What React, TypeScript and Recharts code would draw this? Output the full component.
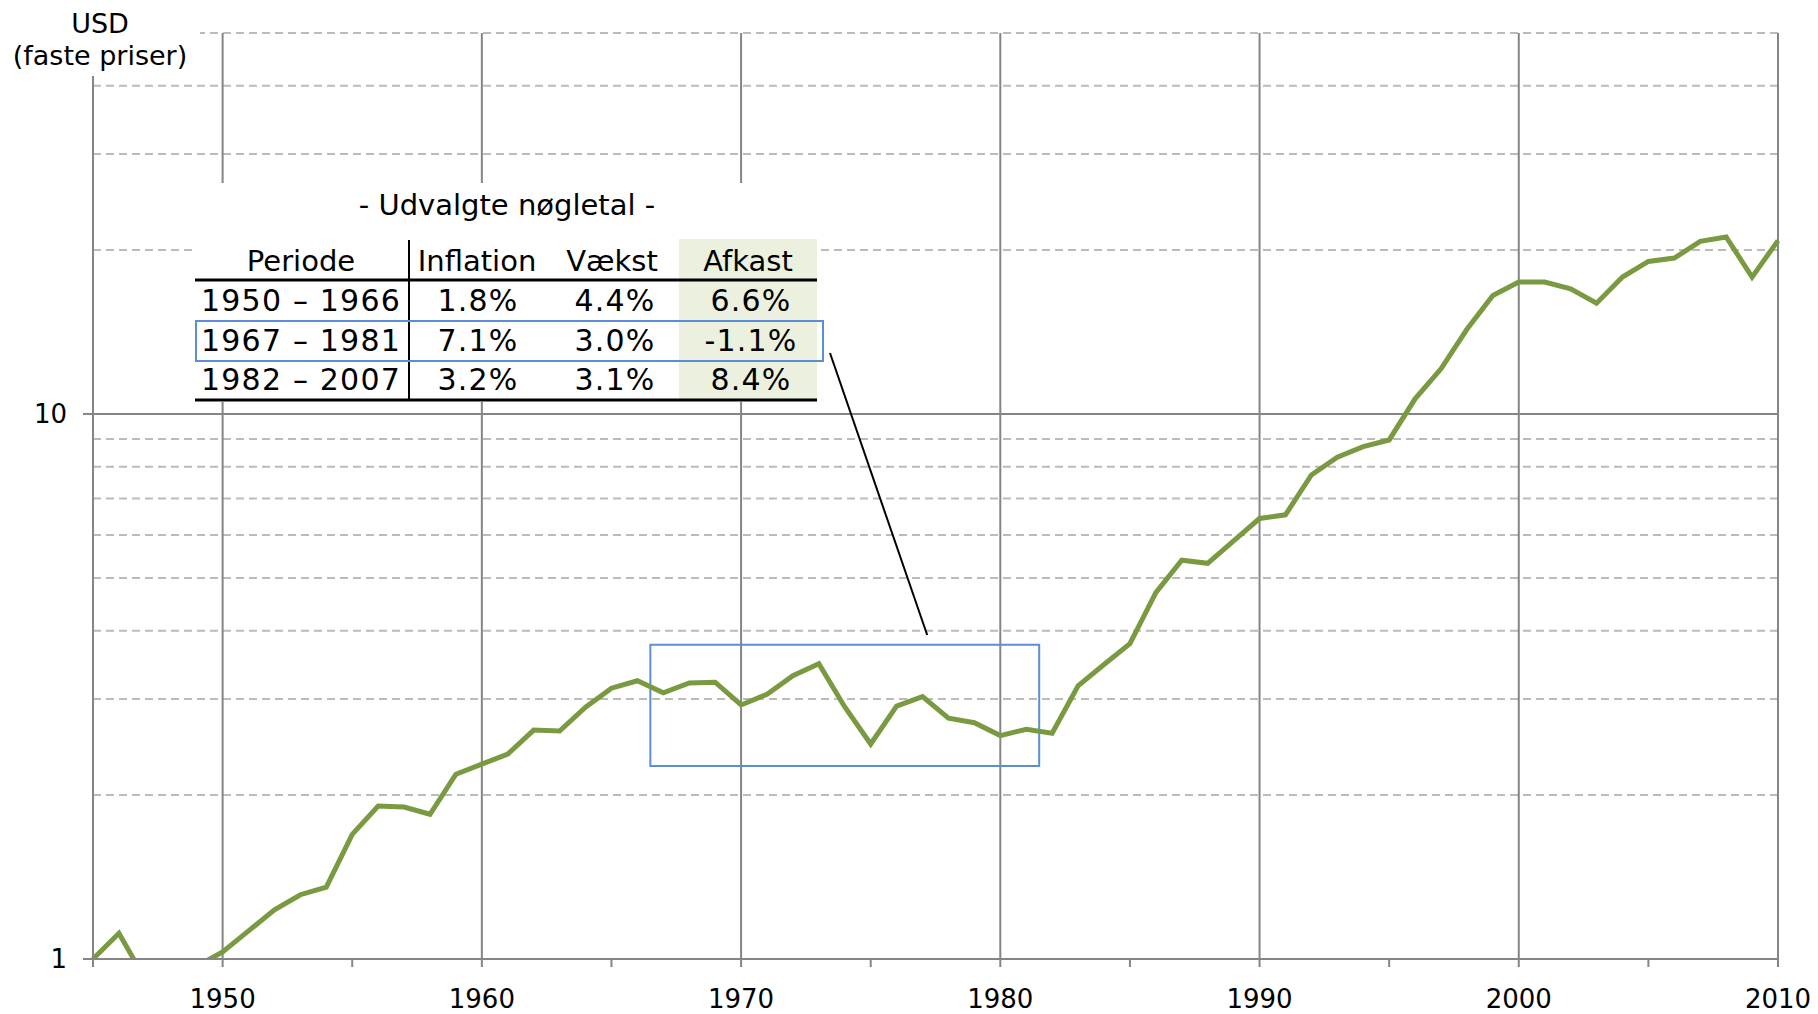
import React from 'react';
import {
  ComposedChart,
  Line,
  XAxis,
  YAxis,
  CartesianGrid,
  ReferenceArea,
  ReferenceLine,
} from 'recharts';

// ---- data ----
const years = [
  1945, 1946, 1947, 1948, 1949, 1950, 1951, 1952, 1953, 1954, 1955, 1956, 1957, 1958, 1959,
  1960, 1961, 1962, 1963, 1964, 1965, 1966, 1967, 1968, 1969, 1970, 1971, 1972, 1973, 1974,
  1975, 1976, 1977, 1978, 1979, 1980, 1981, 1982, 1983, 1984, 1985, 1986, 1987, 1988, 1989,
  1990, 1991, 1992, 1993, 1994, 1995, 1996, 1997, 1998, 1999, 2000, 2001, 2002, 2003, 2004,
  2005, 2006, 2007, 2008, 2009, 2010,
];
const values = [
  1.0, 1.115, 0.92, 0.9, 0.97, 1.03, 1.126, 1.231, 1.312, 1.355, 1.693, 1.909, 1.9, 1.843, 2.183,
  2.278, 2.377, 2.63, 2.62, 2.897, 3.14, 3.24, 3.08, 3.21, 3.22, 2.925, 3.06, 3.31, 3.48, 2.9,
  2.48, 2.91, 3.03, 2.765, 2.714, 2.57, 2.64, 2.595, 3.17, 3.47, 3.79, 4.7, 5.39, 5.32, 5.85,
  6.43, 6.53, 7.73, 8.33, 8.71, 8.96, 10.66, 12.1, 14.3, 16.5, 17.46, 17.46, 16.97, 15.97, 17.83,
  19.05, 19.32, 20.73, 21.12, 17.83, 20.8,
];
const xTicks = [1945, 1950, 1955, 1960, 1965, 1970, 1975, 1980, 1985, 1990, 1995, 2000, 2005, 2010];
const decadeLines = [1950, 1960, 1970, 1980, 1990, 2000, 2010];
const yTicks = [1, 10];
const majorY = [10];
const minorY = [2, 3, 4, 5, 6, 7, 8, 9, 20, 30, 40, 50];

// table
const tableTitle = '- Udvalgte nøgletal -';
const headers = ['Periode', 'Inflation', 'Vækst', 'Afkast'];
const periods = ['1950 – 1966', '1967 – 1981', '1982 – 2007'];
const inflation = ['1.8%', '7.1%', '3.2%'];
const growth = ['4.4%', '3.0%', '3.1%'];
const returns = ['6.6%', '-1.1%', '8.4%'];

// highlighted period box + connector (data coordinates)
const boxX = [1966.5, 1981.5];
const boxY = [2.26, 3.77];
const connector = [
  { x: 1973.43, y: 12.94 },
  { x: 1977.18, y: 3.93 },
];

const data = years.map((y, i) => ({ year: y, value: values[i] }));

const FONT = 'Verdana, "DejaVu Sans", sans-serif';
const GRID = '#858585';
const GREEN = '#7A9A42';
const BLUE = '#5B8ED6';

export default function App() {
  const headX = [301, 477, 612, 748];
  const colX = [301, 478, 615, 751];
  const rowBase = [271, 311, 351, 390];
  const rows = periods.map((p, i) => [p, inflation[i], growth[i], returns[i]]);
  return (
    <div style={{ position: 'relative', width: 1818, height: 1014, background: '#fff' }}>
      <style>{'body{margin:0;}'}</style>
      <ComposedChart
        width={1818}
        height={1014}
        data={data}
        margin={{ top: 33, right: 40, bottom: 0, left: 0 }}
      >
        <CartesianGrid
          horizontal={true}
          vertical={false}
          horizontalValues={minorY}
          stroke="#BBBBBB"
          strokeWidth={2}
          strokeDasharray="8 5"
        />
        <CartesianGrid
          horizontal={true}
          vertical={true}
          horizontalValues={majorY}
          verticalValues={decadeLines}
          stroke={GRID}
          strokeWidth={2}
        />
        <XAxis
          dataKey="year"
          type="number"
          domain={[1945, 2010]}
          ticks={xTicks}
          tickFormatter={(v: number) => (v % 10 === 0 ? String(v) : '')}
          height={55}
          tickSize={8}
          tickMargin={23}
          interval={0}
          axisLine={{ stroke: GRID, strokeWidth: 2 }}
          tickLine={{ stroke: GRID, strokeWidth: 2 }}
          tick={{ fontSize: 26, fill: '#000', fontFamily: FONT }}
        />
        <YAxis
          type="number"
          scale="log"
          domain={[1, 50]}
          allowDataOverflow
          ticks={yTicks}
          width={93}
          tickSize={10}
          tickMargin={16}
          interval={0}
          axisLine={{ stroke: GRID, strokeWidth: 2 }}
          tickLine={{ stroke: GRID, strokeWidth: 2 }}
          tick={{ fontSize: 26, fill: '#000', fontFamily: FONT }}
        />
        <Line
          type="linear"
          dataKey="value"
          stroke={GREEN}
          strokeWidth={5}
          strokeLinejoin="miter"
          dot={false}
          activeDot={false}
          isAnimationActive={false}
        />
        <ReferenceArea
          x1={boxX[0]}
          x2={boxX[1]}
          y1={boxY[0]}
          y2={boxY[1]}
          fill="none"
          fillOpacity={0}
          stroke={BLUE}
          strokeWidth={2}
          ifOverflow="visible"
        />
        <ReferenceLine segment={connector} stroke="#000" strokeWidth={2} ifOverflow="visible" />
      </ComposedChart>
      <svg
        width={1818}
        height={1014}
        style={{ position: 'absolute', left: 0, top: 0, pointerEvents: 'none' }}
        fontFamily={FONT}
      >
        {/* axis unit label */}
        <rect x={0} y={0} width={200} height={76} fill="#fff" />
        <text x={100} y={33} textAnchor="middle" fontSize={27} fill="#000">USD</text>
        <text x={100} y={65} textAnchor="middle" fontSize={27} fill="#000">(faste priser)</text>

        {/* key figures table */}
        <rect x={195} y={183} width={625} height={219} fill="#fff" />
        <text x={507} y={215} textAnchor="middle" fontSize={29} fill="#000">{tableTitle}</text>
        <rect x={679} y={239} width={138} height={161} fill="#EBF1DE" />
        {headers.map((h, i) => (
          <text key={h} x={headX[i]} y={rowBase[0]} textAnchor="middle" fontSize={29} fill="#000">
            {h}
          </text>
        ))}
        {rows.map((r, ri) =>
          r.map((c, ci) => (
            <text
              key={ri + '-' + ci}
              x={colX[ci]}
              y={rowBase[ri + 1]}
              textAnchor="middle"
              fontSize={30}
              letterSpacing={1.2}
              fill="#000"
            >
              {c}
            </text>
          ))
        )}
        <line x1={409} y1={240} x2={409} y2={400} stroke="#000" strokeWidth={2} />
        <line x1={195} y1={280} x2={817} y2={280} stroke="#000" strokeWidth={3} />
        <line x1={195} y1={400} x2={817} y2={400} stroke="#000" strokeWidth={3} />
        <rect x={196} y={321} width={627} height={40} fill="none" stroke={BLUE} strokeWidth={2} />
      </svg>
    </div>
  );
}
